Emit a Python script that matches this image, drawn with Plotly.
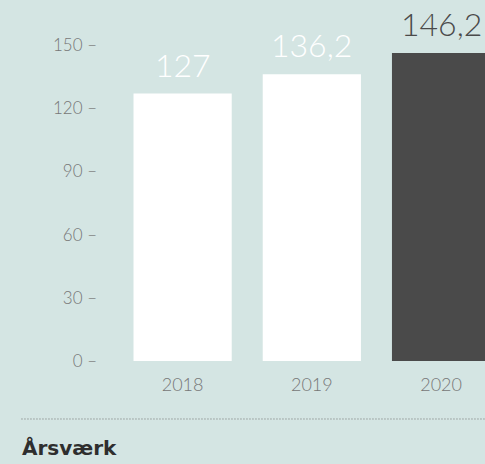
import plotly.graph_objects as go

# data
years = ["2018", "2019", "2020"]
aarsvaerk = [127, 136.2, 146.2]
bar_colors = ["#ffffff", "#ffffff", "#4a4a4a"]
label_colors = ["#ffffff", "#ffffff", "#4a4a4a"]
y_ticks = [0, 30, 60, 90, 120, 150]
title_text = "Årsværk"

bg = "#d4e5e3"


def fmt(v):
    # danish decimal comma
    if float(v).is_integer():
        return str(int(v))
    return str(v).replace(".", ",")


fig = go.Figure()
fig.add_trace(go.Bar(
    x=years, y=aarsvaerk,
    marker=dict(color=bar_colors, line=dict(width=0)),
    hoverinfo="skip",
))

# value labels above bars (x as category index)
for i, (v, c) in enumerate(zip(aarsvaerk, label_colors)):
    fig.add_annotation(
        x=i, y=v, xref="x", yref="y", text=fmt(v), showarrow=False,
        xanchor="center", yanchor="bottom", yshift=8,
        font=dict(family="Lato", size=32, color=c, weight=300),
    )

# dotted separator + title
fig.add_shape(type="line", xref="paper", yref="paper",
              x0=-0.263, x1=1.0, y0=-0.162, y1=-0.162,
              line=dict(color="#707070", width=1, dash="1px,2px"))
fig.add_annotation(
    xref="paper", yref="paper", x=-0.268, y=-0.205,
    text="<b>" + title_text + "</b>", showarrow=False,
    xanchor="left", yanchor="top",
    font=dict(family="DejaVu Sans", size=20, color="#2e2e2e"),
)

fig.update_layout(
    width=485, height=464,
    margin=dict(l=118, r=0, t=3, b=103),
    paper_bgcolor=bg, plot_bgcolor=bg,
    bargap=0.24,
    showlegend=False,
    xaxis=dict(
        type="category",
        range=[-0.5, 2.34],
        showgrid=False, zeroline=False, showline=False,
        ticks="", ticklabelstandoff=11,
        tickfont=dict(family="Lato", size=18, color="#777777", weight=300),
    ),
    yaxis=dict(
        range=[0, 170],
        tickvals=y_ticks, ticktext=[f"{t} –" for t in y_ticks],
        showgrid=False, zeroline=False, showline=False,
        ticks="", ticklabelstandoff=20,
        tickfont=dict(family="Lato", size=17, color="#777777", weight=300),
    ),
)

fig.write_html("out.html", config={"displayModeBar": False},
               post_script="document.body.style.margin='0';")
